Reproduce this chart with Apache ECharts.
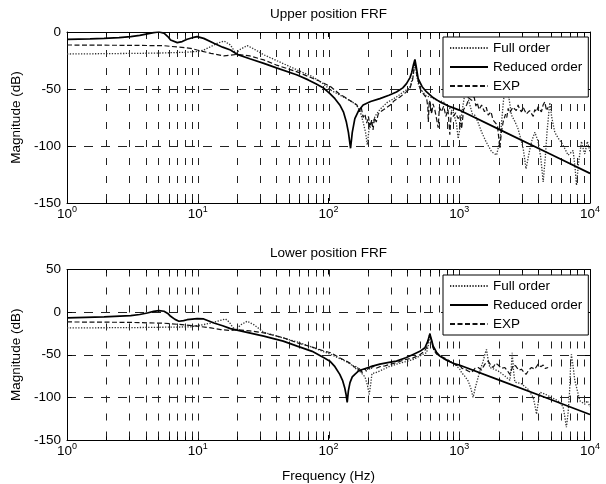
<!DOCTYPE html>
<html>
<head>
<meta charset="utf-8">
<script src="https://cdn.jsdelivr.net/npm/echarts@6/dist/echarts.min.js"></script>
<style>html,body{margin:0;padding:0;background:#fff;}#c{width:606px;height:484px;}</style>
</head>
<body>
<div id="c"></div>
<script>
// ---------- data (frequency Hz, magnitude dB) ----------
const upperFull = [[1,-19.3],[2,-19],[3,-18.8],[5,-18.5],[8,-17.8],[10,-17],[11.1,-15.8],[12.5,-13],[14.1,-9.9],[15.9,-7.9],[17.8,-11.4],[19.5,-18.7],[21.3,-15],[23.9,-11.9],[27,-15],[32,-20],[40,-25],[57.6,-33.3],[75,-39],[90,-45],[104,-51],[130,-57],[150,-61],[164,-64],[175,-70],[184,-79],[192,-88],[198,-99],[203,-88],[207,-79],[215,-82],[227,-74],[247,-68],[280,-62],[331,-57],[380,-52],[418,-49],[445,-38],[458,-25],[472,-38],[490,-47],[520,-52],[560,-56],[600,-57],[680,-60],[753,-61],[830,-66],[900,-70],[950,-80],[982,-93.5],[1010,-85],[1050,-70],[1100,-55],[1138,-47],[1180,-60],[1260,-72],[1316,-73],[1400,-80],[1482,-87.7],[1600,-96],[1766,-105],[1929,-108],[2050,-95],[2105,-80],[2180,-60],[2233,-52],[2300,-38],[2380,-55],[2510,-73],[2650,-78],[2820,-85],[3082,-102],[3240,-120],[3450,-104],[3600,-95],[3786,-88],[4012,-96],[4200,-110],[4385,-131.5],[4550,-110],[4690,-88],[4850,-70],[4932,-62],[5100,-75],[5380,-88],[5700,-93],[6057,-97],[6400,-102],[6806,-108],[7430,-104],[7700,-120],[7880,-134.5],[8170,-115],[8610,-96],[8900,-103],[9120,-107],[9550,-96],[10000,-105]];
const upperReduced = [[1,-6.4],[1.5,-6],[1.92,-5.6],[2.5,-4.9],[3.07,-4.1],[3.6,-3],[4.11,-1.7],[4.6,-0.6],[5.05,0],[5.52,-1],[5.9,-4],[6.2,-7],[6.97,-9.3],[7.6,-8.4],[8.3,-6.4],[9.1,-5],[9.9,-4],[11.1,-5.6],[13.3,-9.9],[15.5,-13.3],[17.8,-15.8],[20,-19.6],[25,-23.5],[32,-27.5],[40,-31.5],[57.6,-37.7],[70,-42],[80,-45.5],[92.3,-49.4],[102.5,-54],[112,-58.5],[122,-64],[130,-70],[137,-79],[142,-88],[147.5,-102],[152,-88],[159,-76],[170,-69],[184,-64],[210,-61],[247,-58.4],[290,-55.5],[331,-52.6],[370,-49],[395,-45.3],[420,-40],[432,-36],[446,-29],[458,-24],[468,-30],[485,-40.9],[520,-48],[563,-52.6],[630,-57.5],[711,-61.3],[850,-65.5],[1000,-68.5],[2000,-85.2],[5000,-107.3],[10000,-124]];
const upperExp = [[1,-11.4],[3,-11.7],[5.5,-12],[8.8,-14.3],[9.9,-15.8],[12.6,-18.7],[15.9,-21],[20,-19.6],[25,-21],[32,-24.5],[40,-29],[57.6,-35],[70,-39],[85,-43],[104,-48],[120,-54],[137,-58],[150,-61],[165,-64],[172,-70],[178,-66],[184,-75],[190,-72],[196,-80],[202,-74],[208,-84],[214,-77],[219,-86],[225,-75],[232,-79],[240,-72],[250,-70],[265,-68],[280,-66],[297,-64],[320,-60],[352,-57],[390,-53],[418,-50],[440,-42],[458,-26],[475,-38],[502,-50],[530,-54],[563,-58],[575,-66],[580,-79],[590,-60],[600,-62],[615,-72],[630,-63],[650,-68],[670,-76],[690,-84],[705,-66],[730,-70],[760,-65],[790,-74],[820,-68],[847,-90],[870,-70],[900,-74],[940,-71],[980,-76],[1011,-73],[1042,-85],[1080,-68],[1138,-64],[1190,-58],[1243,-60],[1300,-57],[1340,-65],[1370,-62],[1420,-68],[1482,-64],[1560,-70],[1610,-66],[1665,-73],[1750,-70],[1810,-77],[1872,-76],[1960,-82],[2043,-102],[2100,-88],[2166,-79],[2260,-72],[2310,-75],[2367,-67],[2430,-71],[2500,-70],[2570,-66],[2650,-65],[2730,-69],[2820,-64],[2900,-68],[2990,-70],[3080,-66],[3174,-67],[3260,-72],[3350,-73],[3450,-69],[3570,-71.6],[3680,-74],[3780,-68],[3900,-70],[4012,-65.6],[4120,-68],[4250,-70],[4380,-64],[4510,-61.3],[4650,-69],[4786,-66]];

const lowerFull = [[1,-18.5],[3,-18.2],[5,-17.8],[8.8,-17.3],[11.1,-14.6],[12.5,-13],[14.1,-10.7],[16.3,-8],[17.5,-12],[18.4,-17.3],[19.5,-21],[21.3,-15],[23.9,-10.7],[27,-15],[32,-23.6],[40,-28],[57.6,-35],[75,-41],[90,-46],[104,-49.5],[120,-54],[137,-58],[150,-62],[164,-67],[175,-70],[190,-76],[198,-85],[205,-96.4],[210,-85],[215,-72],[230,-71],[247,-69],[290,-64],[331,-61],[390,-58],[444,-55.6],[520,-50],[563,-47.5],[585,-36],[596,-27],[610,-34],[640,-44],[670,-49],[750,-54],[847,-57.5],[925,-61],[1011,-67],[1042,-71],[1100,-75],[1170,-80.8],[1230,-90],[1276,-100],[1330,-88],[1397,-76],[1460,-66],[1524,-57.5],[1580,-48],[1617,-43.8],[1660,-55],[1714,-65],[1850,-67],[1985,-69],[2233,-75],[2440,-80],[2500,-65],[2540,-47.7],[2600,-68],[2660,-82],[2990,-84],[3363,-90.5],[3675,-100],[3800,-110],[3900,-119.7],[4000,-108],[4130,-94],[4510,-96],[5070,-100],[5700,-104],[6223,-111],[6450,-125],[6600,-135],[6800,-118],[6970,-95],[7100,-65],[7210,-49.6],[7400,-62],[7650,-80],[8360,-104],[9120,-108],[9550,-104],[10000,-111]];
const lowerReduced = [[1,-6.8],[1.92,-5.6],[3.07,-4.1],[3.6,-2.8],[4.11,-1],[4.6,0.8],[5.05,1.75],[5.52,1],[5.9,-1.5],[6.2,-4.9],[6.7,-8.5],[7.18,-10.7],[7.8,-10],[8.3,-8.9],[9.9,-7.6],[11.1,-8],[13.3,-12.7],[15.5,-16],[17.8,-19.3],[22,-22.5],[32,-28.2],[45,-34],[57.6,-39.9],[75,-46],[92.3,-53.5],[102.5,-57.5],[112,-64],[122,-73],[128,-80],[133,-88.6],[136,-96],[139,-106],[142,-92],[146,-82.7],[152,-76],[159,-73],[170,-69],[184,-67],[210,-64],[247,-61],[290,-59],[331,-57.5],[390,-53.5],[444,-49.6],[500,-46],[546,-41.8],[575,-34],[596,-25.5],[615,-33],[632,-40],[670,-47],[711,-51.6],[800,-56.5],[898,-60],[1000,-62],[2000,-79.5],[5000,-102.5],[10000,-120]];
const lowerExp = [[1,-11.5],[3,-12],[5.5,-13],[8,-15],[9.9,-16.5],[12.6,-18.5],[15,-20.5],[17.8,-21.6],[20,-20.5],[25,-22],[32,-24.3],[45,-30],[57.6,-36],[75,-41],[90,-45],[104,-47.7],[120,-53],[137,-57.5],[150,-61],[159,-64.8],[165,-63],[170,-68],[175,-65],[180,-71],[184,-73],[190,-66],[196,-70],[202,-65],[210,-68],[218,-63],[230,-66],[247,-64],[270,-63],[300,-61],[331,-59.4],[380,-56],[444,-53.7],[500,-50],[540,-46],[563,-41.8],[580,-33],[596,-25],[612,-33],[630,-42],[660,-48],[700,-51],[750,-53],[800,-54.9],[850,-58],[900,-60],[953,-62.6],[1000,-61],[1050,-66],[1105,-67],[1170,-69],[1243,-71],[1320,-66],[1397,-65],[1480,-68],[1570,-61],[1665,-57.5],[1740,-62],[1815,-65],[1900,-60],[1985,-62],[2100,-66],[2233,-65],[2340,-69],[2440,-73],[2585,-62],[2700,-63],[2850,-68],[2990,-67],[3100,-70],[3240,-73],[3400,-68],[3570,-65],[3780,-67],[4012,-61],[4200,-64],[4385,-62],[4550,-66],[4786,-65]];

const gridFreqs = [2,3,4,5,6,7,8,9,10,20,30,40,50,60,70,80,90,100,200,300,400,500,600,700,800,900,1000,2000,3000,4000,5000,6000,7000,8000,9000];
const seriesNames = ['Full order', 'Reduced order', 'EXP'];
const titles = ['Upper position FRF', 'Lower position FRF'];
const yRanges = [[-150, 0], [-150, 50]];
const xRange = [1, 10000];

// ---------- chart ----------
const FONT = '"Liberation Sans", Arial, Helvetica, sans-serif';
const chart = echarts.init(document.getElementById('c'), null, {renderer: 'canvas'});

const grids = [
  {left: 67, top: 32, width: 523, height: 171},
  {left: 67, top: 269.5, width: 523, height: 171}
];

const xAxes = [], yAxes = [], series = [], legends = [], titleOpts = [];
const lineStyles = [
  {color: '#333', width: 1.3, type: [1.3, 1.5]},
  {color: '#000', width: 1.7, type: 'solid'},
  {color: '#111', width: 1.2, type: [5, 2.5]}
];
const dataSets = [[upperFull, upperReduced, upperExp], [lowerFull, lowerReduced, lowerExp]];

function gridItem(params, api) {
  const f = api.value(0), lo = api.value(1), hi = api.value(2);
  const p1 = api.coord([f, hi]), p2 = api.coord([f, lo]);
  const x = Math.round(p1[0]) + 0.5;
  const lg = Math.log10(f);
  const major = Math.abs(lg - Math.round(lg)) < 1e-9;
  const children = [
    {type: 'line', shape: {x1: x, y1: p1[1], x2: x, y2: p2[1]}, style: {stroke: '#222', lineWidth: 1, lineDash: [7, 11]}}
  ];
  if (!major) {
    children.push({type: 'line', shape: {x1: x, y1: p1[1], x2: x, y2: p1[1] + 3.5}, style: {stroke: '#000', lineWidth: 1}});
    children.push({type: 'line', shape: {x1: x, y1: p2[1], x2: x, y2: p2[1] - 3.5}, style: {stroke: '#000', lineWidth: 1}});
  }
  return {type: 'group', children: children};
}

for (let g = 0; g < 2; g++) {
  const [yMin, yMax] = yRanges[g];
  xAxes.push({
    type: 'log', logBase: 10, gridIndex: g, min: xRange[0], max: xRange[1], position: 'bottom',
    axisLine: {show: true, onZero: false, lineStyle: {color: '#000', width: 1}},
    axisTick: {show: true, inside: true, length: 5, lineStyle: {color: '#000'}},
    splitLine: {show: false},
    axisLabel: {
      margin: 2, color: '#000',
      formatter: v => '{b|10}{s|' + Math.round(Math.log10(v)) + '}',
      rich: {
        b: {fontSize: 13.5, fontFamily: FONT, color: '#000', padding: [2, 0, 0, 0]},
        s: {fontSize: 9, fontFamily: FONT, color: '#000', verticalAlign: 'top'}
      }
    },
    name: g === 1 ? 'Frequency (Hz)' : '', nameLocation: 'middle', nameGap: 29,
    nameTextStyle: {fontSize: 13.5, fontFamily: FONT, color: '#000'}
  });
  xAxes.push({
    type: 'log', logBase: 10, gridIndex: g, min: xRange[0], max: xRange[1], position: 'top',
    axisLine: {show: true, onZero: false, lineStyle: {color: '#000', width: 1}},
    axisTick: {show: true, inside: true, length: 5, lineStyle: {color: '#000'}},
    axisLabel: {show: false}, splitLine: {show: false}
  });
  yAxes.push({
    type: 'value', gridIndex: g, min: yMin, max: yMax, interval: 50, position: 'left',
    axisLine: {show: true, onZero: false, lineStyle: {color: '#000', width: 1}},
    axisTick: {show: true, inside: true, length: 5, lineStyle: {color: '#000'}},
    axisLabel: {margin: 6, fontSize: 13.5, fontFamily: FONT, color: '#000'},
    splitLine: {show: true, lineStyle: {color: '#222', width: 1, type: [9, 8]}},
    name: 'Magnitude (dB)', nameLocation: 'middle', nameGap: 40,
    nameTextStyle: {fontSize: 13.5, fontFamily: FONT, color: '#000'}
  });
  yAxes.push({
    type: 'value', gridIndex: g, min: yMin, max: yMax, interval: 50, position: 'right',
    axisLine: {show: true, onZero: false, lineStyle: {color: '#000', width: 1}},
    axisTick: {show: true, inside: true, length: 5, lineStyle: {color: '#000'}},
    axisLabel: {show: false}, splitLine: {show: false}
  });

  series.push({
    type: 'custom', xAxisIndex: g * 2, yAxisIndex: g * 2, z: 1, silent: true,
    renderItem: gridItem, encode: {x: 0, y: [1, 2]},
    data: gridFreqs.map(f => [f, yMin, yMax])
  });
  for (let s = 0; s < 3; s++) {
    series.push({
      type: 'line', name: seriesNames[s], xAxisIndex: g * 2, yAxisIndex: g * 2,
      data: dataSets[g][s], symbol: 'none', showSymbol: false, smooth: false, z: 3 + (s === 1 ? 1 : 0),
      lineStyle: lineStyles[s], itemStyle: {color: lineStyles[s].color}, clip: true
    });
  }
  legends.push({
    data: seriesNames, orient: 'vertical', left: 443, top: g === 0 ? 37 : 275,
    padding: [4, 6, 4, 6], itemWidth: 38, itemHeight: 13, itemGap: 5,
    backgroundColor: '#fff', borderColor: '#000', borderWidth: 1, borderRadius: 0,
    itemStyle: {opacity: 0},
    textStyle: {fontSize: 13.5, fontFamily: FONT, color: '#000'},
    selectedMode: false
  });
  titleOpts.push({
    text: titles[g], left: 328.5, top: g === 0 ? 7 : 246, textAlign: 'center', padding: 0,
    textStyle: {fontSize: 13.5, fontWeight: 'normal', fontFamily: FONT, color: '#000'}
  });
}

chart.setOption({
  animation: false,
  backgroundColor: '#fff',
  title: titleOpts,
  legend: legends,
  grid: grids,
  xAxis: xAxes,
  yAxis: yAxes,
  series: series
});
</script>
</body>
</html>
